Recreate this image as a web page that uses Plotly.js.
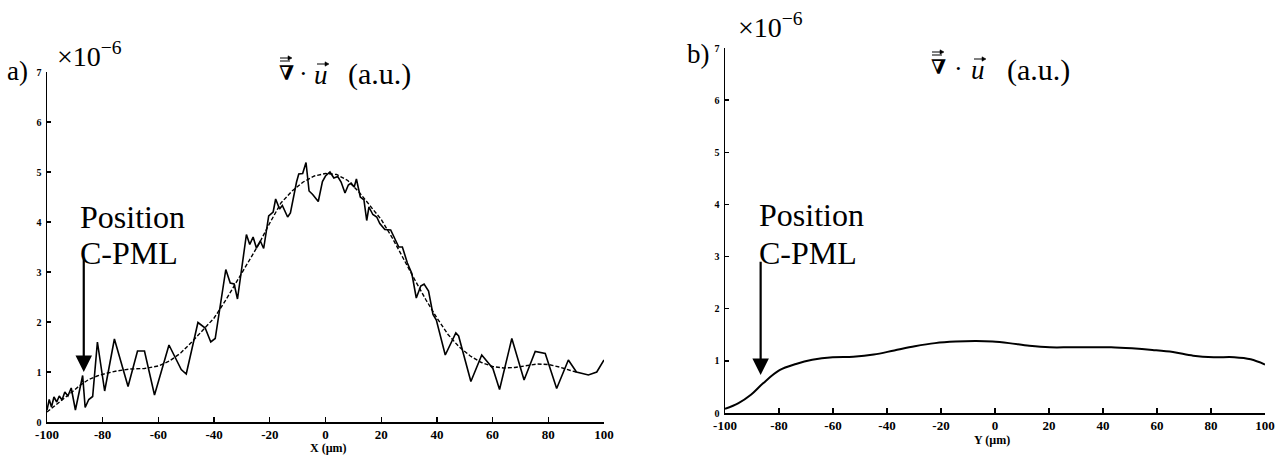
<!DOCTYPE html>
<html><head><meta charset="utf-8">
<script src="https://cdn.plot.ly/plotly-3.0.1.min.js"></script>
<style>html,body{margin:0;padding:0;background:#fff;}#chart{width:1277px;height:456px;}</style>
</head><body><div id="chart"></div>
<script>
// Panel a: simulated (noisy) profile along X, values in units of 1e-6
const xNoisyA = [-100,-99.2,-98.4,-97.5,-96.5,-95.6,-94.6,-93.6,-92.5,-91.3,-89.8,-88.3,-87.2,-86.3,-85,-83.6,-81.9,-79.3,-75.8,-70.9,-67.5,-65,-61.4,-56.2,-51.8,-50,-45.8,-43.2,-41.2,-39.6,-35.8,-34.2,-32.8,-31.6,-28.4,-27.2,-26,-24.8,-23.4,-22.2,-20.4,-18.8,-17.9,-16.5,-15.5,-13.6,-12.6,-10.4,-9.6,-8.2,-7,-5.9,-4.6,-2.6,-1.1,0,1.6,3,4.4,5.6,7,8.2,9.2,10.3,11.1,12.5,13.8,14.8,15.6,17,18.4,19.5,21.3,23.4,24.7,26.3,27.6,29.4,31,32.6,34.2,35.4,37,38.6,39.8,43,46.8,47.8,52.2,56.1,60.1,62.5,66.9,71.3,75.3,78.9,83,87.2,90.1,94.4,97.4,100];
const yNoisyA = [0.24,0.45,0.3,0.5,0.4,0.52,0.44,0.6,0.52,0.68,0.24,0.65,0.93,0.29,0.45,0.51,1.6,0.62,1.66,0.71,1.42,1.42,0.54,1.54,1.05,0.96,1.99,1.88,1.6,1.67,3.05,2.78,2.76,2.46,3.75,3.55,3.7,3.48,3.62,3.47,4.12,4.2,4.46,4.26,4.33,4.1,4.18,4.8,4.96,4.97,5.19,4.62,4.55,4.41,4.81,4.92,5.0,4.88,4.91,4.8,4.58,4.74,4.78,4.7,4.86,4.5,4.44,4.03,4.3,4.15,4.1,3.97,3.85,3.84,3.68,3.5,3.5,3.18,2.97,2.48,2.72,2.76,2.62,2.15,2.04,1.34,1.78,1.72,0.81,1.34,1.07,0.65,1.67,0.84,1.41,1.37,0.67,1.24,1.0,0.94,1.0,1.24];
// Panel a: smooth (dashed) profile
const xSmoothA = [-100,-97,-94,-91,-88,-85,-82,-79,-75,-70,-65,-60,-56,-52,-48,-44,-40,-36,-32,-28,-24,-20,-16,-12,-8,-4,0,4,8,12,16,20,24,28,32,36,40,44,48,52,56,60,64,68,72,76,80,84,88,90];
const ySmoothA = [0.2,0.33,0.47,0.6,0.74,0.85,0.92,0.97,1.02,1.06,1.07,1.12,1.22,1.38,1.6,1.85,2.08,2.42,2.8,3.18,3.55,3.98,4.38,4.62,4.8,4.92,4.97,4.95,4.83,4.6,4.32,4.05,3.68,3.25,2.85,2.45,2.08,1.75,1.5,1.32,1.19,1.11,1.08,1.09,1.13,1.16,1.15,1.1,1.03,1.0];
// Panel b: profile along Y
const xB = [-100,-95,-90.4,-85.9,-79.8,-73.7,-67.7,-60.1,-52.5,-44.9,-37.3,-29.7,-22.2,-14.6,-7,-0.9,5.2,12.7,20.3,27.9,35.5,43,50.7,58.3,65.9,73.4,81,88.6,94.7,100];
const yB = [0.08,0.19,0.35,0.57,0.82,0.94,1.02,1.07,1.08,1.12,1.2,1.28,1.34,1.37,1.38,1.37,1.34,1.29,1.26,1.26,1.26,1.26,1.24,1.21,1.17,1.1,1.07,1.07,1.03,0.93];
const xTickVals = [-100,-80,-60,-40,-20,0,20,40,60,80,100];
const xTickText = ['-100','-80','-60','-40','-20','0','20','40','60','80','100'];
const yTickVals = [0,1,2,3,4,5,6,7];
const yTickText = ['0','1','2','3','4','5','6','7'];
const markerX = -86.8;   // C-PML position

const W = 1277, H = 456;
const px = v => v / W, py = v => 1 - v / H;
const serif = 'Liberation Serif, Times New Roman, serif';

const traces = [
  {x: xNoisyA, y: yNoisyA, xaxis:'x', yaxis:'y', mode:'lines', line:{color:'#000', width:1.6}},
  {x: xSmoothA, y: ySmoothA, xaxis:'x', yaxis:'y', mode:'lines', line:{color:'#000', width:1.4, dash:'4px,2px'}},
  {x: xB, y: yB, xaxis:'x2', yaxis:'y2', mode:'lines', line:{color:'#000', width:2, shape:'spline'}}
];

function xax(domain, anchor){
  return {domain, anchor, range:[-100,100], tickvals:xTickVals, ticktext:xTickText,
    ticks:'inside', ticklen:5, tickwidth:1.3, tickcolor:'#000', showline:true, linecolor:'#000', linewidth:1.5,
    showgrid:false, zeroline:false, fixedrange:true,
    tickfont:{family:serif, size:13, color:'#000', weight:'bold'}};
}
function yax(domain, anchor){
  return {domain, anchor, range:[0,7], tickvals:yTickVals, ticktext:yTickText,
    ticks:'inside', ticklen:4, tickwidth:1.3, tickcolor:'#000', showline:true, linecolor:'#000', linewidth:1.5,
    showgrid:false, zeroline:false, fixedrange:true, ticklabelstandoff:2,
    tickfont:{family:serif, size:10, color:'#000', weight:'bold'}};
}

const ann = [];
const shapes = [];
function txt(x, y, text, size, opts){
  const o = Object.assign({xref:'paper', yref:'paper', x:px(x), y:py(y), text, showarrow:false,
    xanchor:'center', yanchor:'middle'}, opts||{});
  o.font = Object.assign({family:serif, size, color:'#000'}, (opts&&opts.font)||{});
  ann.push(o);
}
// small vector accent (arrow over a symbol), drawn as shapes
function accent(cx, cy, halfW, bar){
  const x0 = cx - halfW, x1 = cx + halfW;
  shapes.push({type:'line', xref:'paper', yref:'paper', x0:px(x0), x1:px(x1-2), y0:py(cy), y1:py(cy), line:{color:'#000', width:1}});
  shapes.push({type:'path', xref:'paper', yref:'paper',
    path:`M${px(x1)},${py(cy)} L${px(x1-4)},${py(cy-2.2)} L${px(x1-4)},${py(cy+2.2)} Z`,
    fillcolor:'#000', line:{color:'#000', width:0.5}});
  if (bar) shapes.push({type:'line', xref:'paper', yref:'paper', x0:px(x0), x1:px(x1-2), y0:py(cy+3), y1:py(cy+3), line:{color:'#000', width:1}});
}
function title(xNabla, yNabla, xDot, xU, yU, xAu, yAu){
  txt(xNabla, yNabla, '∇', 20, {font:{family:'DejaVu Serif', weight:'bold'}});
  accent(xNabla, yNabla-15, 6, true);
  txt(xDot, yU-1, '·', 26);
  txt(xU, yU, '<i>u</i>', 27);
  accent(xU+2, yU-11, 6, false);
  txt(xAu, yAu, '(a.u.)', 30);
}
// panel a texts
txt(17, 71, 'a)', 27);
txt(55, 55, '×10<sup>−6</sup>', 28, {xanchor:'left'});
title(286, 73, 303, 321, 75, 380, 74);
txt(78, 217, 'Position', 32, {xanchor:'left'});
txt(78, 253, 'C-PML', 32, {xanchor:'left'});
txt(328, 448, '<b>X (µm)</b>', 12);
// panel b texts
txt(698, 54, 'b)', 27);
txt(736, 26, '×10<sup>−6</sup>', 28, {xanchor:'left'});
title(938, 67, 958, 978, 70, 1038, 70);
txt(757, 215, 'Position', 32, {xanchor:'left'});
txt(757, 253, 'C-PML', 32, {xanchor:'left'});
txt(992, 440, '<b>Y (µm)</b>', 12);
// arrows marking the C-PML position
ann.push({xref:'x', yref:'y', x:markerX, y:1.0, axref:'x', ayref:'y', ax:markerX, ay:3.3, text:'',
  showarrow:true, arrowhead:2, arrowsize:1.5, arrowwidth:2.2, arrowcolor:'#000'});
ann.push({xref:'x2', yref:'y2', x:markerX, y:0.73, axref:'x2', ayref:'y2', ax:markerX, ay:2.93, text:'',
  showarrow:true, arrowhead:2, arrowsize:1.5, arrowwidth:2.2, arrowcolor:'#000'});

const layout = {
  width:W, height:H, margin:{l:0,r:0,t:0,b:0}, showlegend:false,
  paper_bgcolor:'#fff', plot_bgcolor:'#fff',
  xaxis: xax([px(47), px(604)], 'y'),
  yaxis: yax([1-422/H, 1-72/H], 'x'),
  xaxis2: xax([px(725), px(1265)], 'y2'),
  yaxis2: yax([1-413/H, 1-48/H], 'x2'),
  annotations: ann,
  shapes: shapes
};
Plotly.newPlot('chart', traces, layout, {displayModeBar:false, staticPlot:true});
</script></body></html>
